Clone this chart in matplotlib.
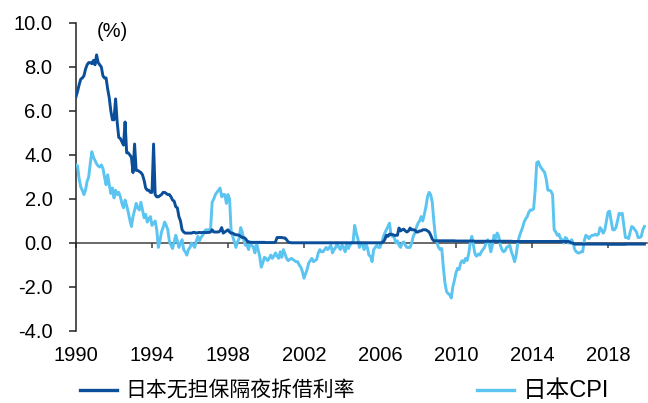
import numpy as np
import matplotlib
matplotlib.use("Agg")
import matplotlib.pyplot as plt
from matplotlib.lines import Line2D

plt.rcParams['font.family'] = ['Liberation Sans', 'Noto Sans CJK SC', 'DejaVu Sans']

# Monthly series, Jan 1990 - Dec 2019 (%)
call_rate = [
    6.65, 6.9, 7.2, 7.45, 7.5, 7.6, 7.9, 8.1, 8.2, 8.2, 8.15, 8.3,        # 1990
    8.1, 8.55, 8.2, 8.1, 8.0, 7.6, 7.5, 7.5, 7.0, 6.6, 6.0, 5.6,          # 1991
    5.6, 6.55, 5.5, 4.8, 4.75, 4.6, 4.45, 5.5, 4.1, 4.1, 4.0, 3.9,        # 1992
    3.2, 4.5, 3.3, 3.3, 3.25, 3.2, 3.1, 2.85, 2.5, 2.4, 2.4, 2.3,         # 1993
    2.3, 4.5, 2.2, 2.1, 2.1, 2.15, 2.2, 2.3, 2.3, 2.25, 2.2, 2.2,         # 1994
    2.1, 1.95, 1.9, 1.65, 1.6, 1.2, 1.0, 0.6, 0.5, 0.45, 0.45, 0.45,      # 1995
    0.45, 0.45, 0.48, 0.48, 0.45, 0.47, 0.48, 0.47, 0.48, 0.48, 0.47, 0.48,  # 1996
    0.48, 0.5, 0.6, 0.5, 0.5, 0.5, 0.5, 0.55, 0.7, 0.45, 0.5, 0.55,       # 1997
    0.6, 0.5, 0.45, 0.45, 0.4, 0.37, 0.37, 0.35, 0.3, 0.25, 0.25, 0.2,    # 1998
    0.1, 0.05, 0.03, 0.03, 0.03, 0.03, 0.03, 0.03, 0.03, 0.03, 0.03, 0.03,  # 1999
    0.02, 0.02, 0.02, 0.02, 0.02, 0.02, 0.05, 0.25, 0.25, 0.25, 0.25, 0.23,  # 2000
    0.23, 0.15, 0.05, 0.02, 0.01, 0.01, 0.01, 0.01, 0.01, 0.01, 0.01, 0.01,  # 2001
    0.01, 0.01, 0.01, 0.01, 0.01, 0.01, 0.01, 0.01, 0.01, 0.01, 0.01, 0.01,  # 2002
    0.01, 0.01, 0.01, 0.01, 0.01, 0.01, 0.01, 0.01, 0.01, 0.01, 0.01, 0.01,  # 2003
    0.01, 0.01, 0.01, 0.01, 0.01, 0.01, 0.01, 0.01, 0.01, 0.01, 0.01, 0.01,  # 2004
    0.01, 0.01, 0.01, 0.01, 0.01, 0.01, 0.01, 0.01, 0.01, 0.01, 0.01, 0.01,  # 2005
    0.01, 0.01, 0.05, 0.15, 0.35, 0.3, 0.4, 0.4, 0.38, 0.35, 0.35, 0.35,  # 2006
    0.68, 0.55, 0.6, 0.63, 0.55, 0.5, 0.55, 0.68, 0.6, 0.6, 0.59, 0.5,    # 2007
    0.5, 0.55, 0.55, 0.6, 0.6, 0.6, 0.55, 0.5, 0.36, 0.18, 0.1, 0.1,      # 2008
    0.1, 0.1, 0.1, 0.1, 0.1, 0.1, 0.1, 0.1, 0.1, 0.1, 0.1, 0.1,           # 2009
    0.09, 0.09, 0.09, 0.09, 0.09, 0.09, 0.09, 0.09, 0.09, 0.09, 0.09, 0.09,  # 2010
    0.08, 0.08, 0.08, 0.08, 0.08, 0.08, 0.08, 0.08, 0.08, 0.08, 0.08, 0.08,  # 2011
    0.08, 0.08, 0.08, 0.08, 0.08, 0.08, 0.08, 0.08, 0.08, 0.08, 0.08, 0.08,  # 2012
    0.07, 0.07, 0.07, 0.07, 0.07, 0.07, 0.07, 0.07, 0.07, 0.07, 0.07, 0.07,  # 2013
    0.07, 0.07, 0.07, 0.07, 0.07, 0.07, 0.07, 0.07, 0.07, 0.07, 0.07, 0.07,  # 2014
    0.07, 0.07, 0.07, 0.07, 0.07, 0.07, 0.07, 0.07, 0.07, 0.07, 0.07, 0.07,  # 2015
    0.04, -0.0, -0.01, -0.05, -0.05, -0.05, -0.05, -0.05, -0.05, -0.05, -0.05, -0.05,  # 2016
    -0.05, -0.05, -0.05, -0.05, -0.05, -0.05, -0.05, -0.05, -0.05, -0.05, -0.05, -0.05,  # 2017
    -0.06, -0.06, -0.06, -0.06, -0.06, -0.06, -0.06, -0.06, -0.06, -0.06, -0.06, -0.06,  # 2018
    -0.05, -0.05, -0.05, -0.05, -0.05, -0.05, -0.05, -0.05, -0.05, -0.05, -0.05, -0.05,  # 2019
]

cpi = [
    3.55, 3.5, 2.9, 2.55, 2.4, 2.2, 2.4, 2.8, 3.0, 3.6, 4.15, 3.9,        # 1990
    3.75, 3.6, 3.5, 3.45, 3.55, 3.4, 3.0, 2.65, 3.1, 2.65, 2.25, 2.5,     # 1991
    2.05, 2.4, 2.2, 2.3, 2.1, 1.8, 1.6, 1.95, 1.7, 1.4, 1.05, 0.75,       # 1992
    1.2, 1.5, 1.8, 1.6, 1.5, 1.85, 1.5, 1.15, 1.3, 0.95, 1.1, 1.2,        # 1993
    0.8, 0.9, 1.0, 0.6, -0.2, 0.1, 0.5, 0.7, 0.95, 0.8, 0.6, 0.05,        # 1994
    -0.1, -0.25, 0.05, 0.35, 0.1, -0.2, 0.0, 0.15, -0.3, -0.4, -0.55, -0.3,  # 1995
    -0.2, 0.0, -0.1, -0.2, 0.1, 0.3, 0.1, 0.25, 0.35, 0.5, 0.6, 0.6,      # 1996
    0.6, 0.65, 1.85, 2.0, 2.2, 2.3, 2.4, 2.5, 2.1, 2.2, 2.2, 1.8,         # 1997
    2.2, 2.0, 0.5, 0.3, 0.05, -0.2, 0.05, 0.2, 0.7, 0.5, 0.1, -0.1,       # 1998
    -0.1, -0.3, 0.05, -0.1, -0.2, -0.45, 0.0, -0.3, -0.6, -1.1, -0.9, -0.65,  # 1999
    -0.7, -0.8, -0.7, -0.55, -0.7, -0.6, -0.45, -0.6, -0.7, -0.4, -0.65, -0.3,  # 2000
    -0.5, -0.7, -0.8, -0.75, -0.7, -0.75, -0.8, -0.85, -0.85, -1.0, -1.1, -1.3,  # 2001
    -1.6, -1.4, -1.2, -0.9, -0.8, -0.7, -0.85, -0.8, -0.75, -0.45, -0.3, -0.4,  # 2002
    -0.4, -0.3, -0.2, -0.3, -0.2, -0.1, -0.45, -0.3, -0.2, 0.0, -0.2, -0.3,  # 2003
    -0.1, -0.2, -0.4, 0.0, -0.25, -0.1, 0.0, 0.05, 0.8, 0.45, 0.2, -0.2,  # 2004
    0.0, -0.1, -0.3, 0.0, -0.2, -0.55, -0.6, -0.85, -0.3, -0.2, -0.1, -0.2,  # 2005
    -0.2, 0.0, 0.25, 0.45, 0.6, 0.75, 0.9, 0.35, 0.3, 0.25, 0.0, 0.1,     # 2006
    -0.1, -0.2, 0.0, 0.05, -0.1, -0.2, -0.2, -0.2, 0.0, 0.3, 0.45, 0.7,   # 2007
    0.9, 1.0, 1.2, 1.0, 1.3, 1.65, 2.1, 2.3, 2.2, 1.85, 1.0, 0.3,         # 2008
    0.0, -0.2, -0.3, -0.25, -1.1, -1.8, -2.2, -2.3, -2.35, -2.5, -2.0, -1.7,  # 2009
    -1.35, -1.15, -1.2, -0.9, -0.8, -0.9, -0.7, -0.8, -0.5, 0.0, 0.3, -0.1,  # 2010
    -0.5, -0.6, -0.5, -0.55, -0.4, -0.3, -0.2, 0.0, 0.15, -0.05, -0.4, -0.1,  # 2011
    0.35, 0.2, 0.45, 0.3, -0.1, -0.3, -0.4, -0.35, -0.2, -0.15, -0.1, -0.4,  # 2012
    -0.6, -0.85, -0.55, 0.0, 0.3, 0.5, 0.7, 0.95, 1.1, 1.2, 1.4, 1.5,     # 2013
    1.5, 1.55, 2.4, 3.65, 3.7, 3.5, 3.4, 3.3, 3.2, 2.9, 2.4, 2.4,         # 2014
    2.35, 2.2, 0.6, 0.5, 0.35, 0.4, 0.2, 0.15, 0.0, 0.25, 0.2, 0.0,       # 2015
    0.0, 0.15, 0.0, -0.3, -0.4, -0.45, -0.45, -0.4, -0.4, 0.1, 0.35, 0.3,  # 2016
    0.2, 0.3, 0.35, 0.35, 0.4, 0.35, 0.4, 0.7, 0.6, 0.45, 0.6, 1.0,       # 2017
    1.4, 1.45, 1.0, 0.6, 0.6, 0.7, 1.0, 1.35, 1.3, 1.35, 0.8, 0.25,       # 2018
    0.25, 0.2, 0.5, 0.75, 0.7, 0.6, 0.5, 0.25, 0.25, 0.3, 0.6, 0.75,      # 2019
]

year_ticks = [1990, 1994, 1998, 2002, 2006, 2010, 2014, 2018]
y_ticks = [-4.0, -2.0, 0.0, 2.0, 4.0, 6.0, 8.0, 10.0]
series_names = ["日本无担保隔夜拆借利率", "日本CPI"]
unit_label = "(%)"

DARK = "#0B4E9A"
LIGHT = "#5BC4F1"

start_year = 1990
t_rate = start_year + np.arange(len(call_rate)) / 12.0
t_cpi = start_year + np.arange(len(cpi)) / 12.0

fig = plt.figure(figsize=(6.48, 4.03), dpi=100)
ax = fig.add_axes([76 / 648, 1 - 331 / 403, 571 / 648, 308 / 403])

ax.plot(t_cpi, cpi, color=LIGHT, lw=2.1, solid_joinstyle="round", zorder=3)
ax.plot(t_rate, call_rate, color=DARK, lw=2.1, solid_joinstyle="round", zorder=4)

ax.set_xlim(1990, 1990 + 571 / 19)
ax.set_ylim(-4, 10)
ax.set_yticks(y_ticks)
ax.set_yticklabels([f"{v:.1f}" for v in y_ticks])
ax.set_xticks(year_ticks)

for side in ("top", "right"):
    ax.spines[side].set_visible(False)
ax.spines["left"].set_color("#222222")
ax.spines["left"].set_linewidth(1.1)
ax.spines["bottom"].set_position(("data", 0))
ax.spines["bottom"].set_color("#404040")
ax.spines["bottom"].set_linewidth(1.1)
ax.spines["bottom"].set_zorder(2)

ax.tick_params(axis="y", direction="out", length=5, width=1.1, color="#222222",
               labelsize=14.5, pad=12)
ax.tick_params(axis="x", direction="out", length=3.5, width=1.1, color="#404040",
               labelbottom=False)

# Year labels along the bottom edge of the plot area
sec = ax.secondary_xaxis(0)
sec.set_xticks(year_ticks)
sec.set_xticklabels([str(y) for y in year_ticks])
sec.spines["bottom"].set_visible(False)
sec.tick_params(axis="x", length=0, labelsize=14.5, pad=11)

ax.text(0.037, 0.971, unit_label, transform=ax.transAxes, ha="left", va="center",
        fontsize=14.5)

handles = [Line2D([], [], color=DARK, lw=2.4), Line2D([], [], color=LIGHT, lw=2.4)]
leg = fig.legend(handles, series_names, loc="center left",
                 bbox_to_anchor=(80 / 648, 1 - 391 / 403), ncol=2, frameon=False,
                 fontsize=15, handlelength=1.78, handletextpad=0.4,
                 columnspacing=5.85, borderpad=0.0, borderaxespad=0.0)
leg.get_texts()[1].set_fontsize(17)

fig.savefig("out.png", dpi=100)
